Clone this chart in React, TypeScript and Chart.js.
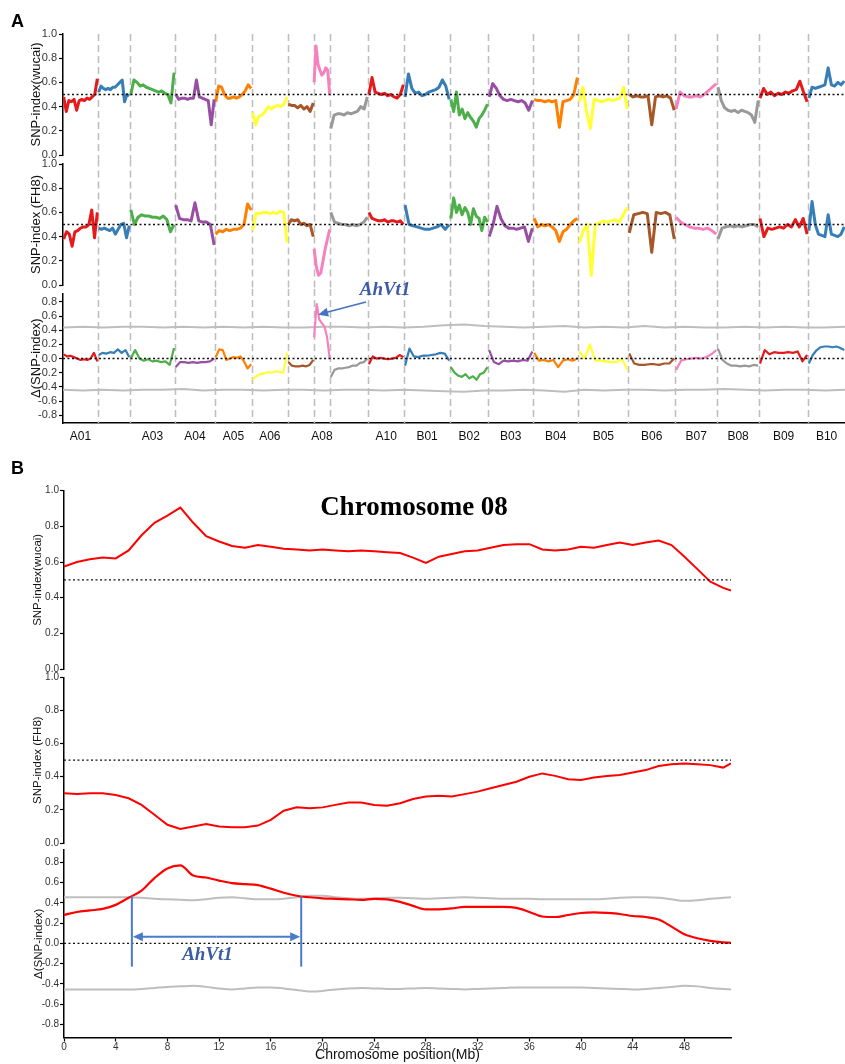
import React, { useEffect, useRef } from 'react';
import { Chart, registerables } from 'chart.js';

Chart.register(...registerables);

const SANS = "'Liberation Sans', Arial, Helvetica, sans-serif";
const SERIF = "'Liberation Serif', 'Times New Roman', serif";

// ---------------- Panel A data (genome-wide) ----------------
const chromNames = ['A01', 'A02', 'A03', 'A04', 'A05', 'A06', 'A07', 'A08', 'A09', 'A10',
  'B01', 'B02', 'B03', 'B04', 'B05', 'B06', 'B07', 'B08', 'B09', 'B10'];
const hiddenChromLabels = ['A02', 'A07', 'A09'];
const chromLengths = [112, 102, 144, 128, 118, 115, 83, 52, 122, 115,
  147, 122, 144, 144, 160, 150, 134, 134, 157, 118];
const chromColors = ['#E41A1C', '#377EB8', '#4DAF4A', '#984EA3', '#FF7F00', '#FFFF33', '#A65628', '#F781BF', '#999999',
  '#E41A1C', '#377EB8', '#4DAF4A', '#984EA3', '#FF7F00', '#FFFF33', '#A65628', '#F781BF', '#999999', '#E41A1C', '#377EB8'];

const wucaiA: number[][] = [
  [0.48, 0.36, 0.45, 0.44, 0.46, 0.37, 0.45, 0.46, 0.45, 0.47, 0.46, 0.48, 0.5, 0.63],
  [0.52, 0.57, 0.55, 0.54, 0.55, 0.54, 0.56, 0.56, 0.58, 0.6, 0.62, 0.44, 0.5, 0.49],
  [0.5, 0.62, 0.6, 0.57, 0.58, 0.56, 0.55, 0.54, 0.53, 0.52, 0.53, 0.51, 0.5, 0.43, 0.68],
  [0.5, 0.46, 0.47, 0.47, 0.46, 0.47, 0.47, 0.62, 0.48, 0.47, 0.46, 0.45, 0.25, 0.46],
  [0.44, 0.57, 0.56, 0.5, 0.47, 0.47, 0.48, 0.47, 0.48, 0.5, 0.53, 0.58, 0.55],
  [0.35, 0.25, 0.32, 0.33, 0.36, 0.40, 0.38, 0.40, 0.41, 0.40, 0.42, 0.48],
  [0.42, 0.41, 0.41, 0.39, 0.41, 0.38, 0.40, 0.36, 0.43],
  [0.6, 0.9, 0.75, 0.7, 0.66, 0.68, 0.72, 0.7, 0.5],
  [0.22, 0.33, 0.34, 0.34, 0.33, 0.35, 0.34, 0.35, 0.36, 0.40, 0.38, 0.48],
  [0.5, 0.64, 0.52, 0.51, 0.50, 0.51, 0.49, 0.50, 0.48, 0.47, 0.5, 0.58],
  [0.48, 0.67, 0.55, 0.51, 0.52, 0.49, 0.5, 0.52, 0.53, 0.54, 0.56, 0.62, 0.57, 0.46],
  [0.46, 0.36, 0.52, 0.33, 0.38, 0.30, 0.35, 0.31, 0.28, 0.23, 0.30, 0.33, 0.37, 0.42],
  [0.48, 0.59, 0.55, 0.49, 0.46, 0.45, 0.46, 0.45, 0.44, 0.45, 0.43, 0.37, 0.45],
  [0.46, 0.45, 0.45, 0.44, 0.45, 0.44, 0.45, 0.23, 0.44, 0.45, 0.46, 0.5, 0.64],
  [0.44, 0.56, 0.35, 0.22, 0.46, 0.45, 0.44, 0.45, 0.46, 0.45, 0.46, 0.47, 0.56, 0.38],
  [0.5, 0.48, 0.49, 0.48, 0.48, 0.49, 0.25, 0.48, 0.49, 0.48, 0.49, 0.47, 0.37],
  [0.38, 0.52, 0.49, 0.48, 0.48, 0.49, 0.48, 0.5, 0.53, 0.56, 0.59],
  [0.56, 0.45, 0.39, 0.37, 0.36, 0.37, 0.35, 0.37, 0.36, 0.35, 0.33, 0.27, 0.45],
  [0.47, 0.55, 0.5, 0.52, 0.49, 0.51, 0.5, 0.52, 0.51, 0.53, 0.54, 0.61, 0.52, 0.44],
  [0.47, 0.56, 0.55, 0.56, 0.57, 0.58, 0.72, 0.58, 0.57, 0.6, 0.58, 0.61],
];

const fh8A: number[][] = [
  [0.38, 0.44, 0.42, 0.32, 0.44, 0.45, 0.47, 0.48, 0.48, 0.5, 0.62, 0.39, 0.6],
  [0.47, 0.46, 0.47, 0.46, 0.45, 0.47, 0.42, 0.46, 0.5, 0.51, 0.39, 0.49],
  [0.62, 0.5, 0.56, 0.58, 0.57, 0.57, 0.56, 0.56, 0.55, 0.57, 0.54, 0.44, 0.5],
  [0.66, 0.55, 0.54, 0.54, 0.53, 0.68, 0.53, 0.52, 0.52, 0.5, 0.33],
  [0.42, 0.45, 0.44, 0.46, 0.45, 0.46, 0.46, 0.47, 0.5, 0.67, 0.62],
  [0.45, 0.59, 0.59, 0.6, 0.6, 0.59, 0.6, 0.59, 0.61, 0.6, 0.35],
  [0.5, 0.54, 0.53, 0.54, 0.5, 0.51, 0.49, 0.5, 0.4],
  [0.3, 0.15, 0.08, 0.1, 0.2, 0.3, 0.38, 0.46],
  [0.6, 0.52, 0.51, 0.5, 0.5, 0.49, 0.5, 0.49, 0.5, 0.52, 0.56],
  [0.6, 0.55, 0.54, 0.53, 0.53, 0.54, 0.52, 0.53, 0.53, 0.52, 0.53, 0.5],
  [0.66, 0.5, 0.49, 0.48, 0.47, 0.46, 0.46, 0.47, 0.48, 0.5, 0.46, 0.5],
  [0.55, 0.72, 0.6, 0.66, 0.58, 0.64, 0.6, 0.5, 0.63, 0.57, 0.55, 0.45, 0.56, 0.52],
  [0.4, 0.5, 0.65, 0.55, 0.49, 0.47, 0.47, 0.46, 0.47, 0.48, 0.36, 0.47],
  [0.55, 0.48, 0.5, 0.49, 0.5, 0.48, 0.45, 0.36, 0.44, 0.46, 0.5, 0.53, 0.55],
  [0.35, 0.45, 0.5, 0.08, 0.5, 0.51, 0.53, 0.52, 0.53, 0.54, 0.52, 0.58, 0.64],
  [0.43, 0.58, 0.59, 0.6, 0.59, 0.27, 0.6, 0.59, 0.6, 0.58, 0.38],
  [0.56, 0.52, 0.5, 0.48, 0.47, 0.47, 0.46, 0.47, 0.45, 0.42],
  [0.38, 0.47, 0.48, 0.49, 0.48, 0.49, 0.48, 0.49, 0.5, 0.5, 0.48],
  [0.55, 0.4, 0.47, 0.46, 0.47, 0.48, 0.47, 0.5, 0.48, 0.54, 0.48, 0.55, 0.42],
  [0.45, 0.69, 0.5, 0.42, 0.41, 0.4, 0.58, 0.42, 0.41, 0.4, 0.42, 0.48],
];

const deltaA: number[][] = [
  [0.06, 0.03, 0.04, 0.02, 0.0, -0.02, -0.01, -0.02, 0.0, 0.08, -0.04],
  [0.05, 0.08, 0.07, 0.09, 0.08, 0.13, 0.08, 0.12, 0.02],
  [0.0, 0.12, 0.0, -0.03, -0.01, -0.04, -0.03, -0.05, -0.04, -0.09, 0.15],
  [-0.12, -0.05, -0.05, -0.06, -0.05, -0.06, -0.05, -0.05, -0.04, 0.0],
  [0.02, 0.13, 0.12, -0.02, 0.0, 0.02, 0.01, 0.03, -0.04, -0.14, -0.08],
  [-0.3, -0.25, -0.22, -0.21, -0.19, -0.2, -0.18, -0.19, -0.2, 0.08],
  [-0.05, -0.1, -0.11, -0.11, -0.1, -0.11, -0.09, -0.02],
  [0.3, 0.77, 0.55, 0.5, 0.45, 0.3, 0.0],
  [-0.26, -0.16, -0.14, -0.14, -0.13, -0.12, -0.1, -0.1, -0.06, -0.05, 0.0],
  [-0.08, 0.03, 0.0, 0.01, 0.0, -0.01, 0.0, 0.01, 0.05, 0.02],
  [-0.1, 0.14, 0.03, 0.02, 0.04, 0.04, 0.05, 0.06, 0.08, 0.07, -0.03],
  [-0.12, -0.2, -0.24, -0.26, -0.22, -0.28, -0.25, -0.3, -0.22, -0.2, -0.12],
  [0.12, -0.05, -0.08, -0.03, -0.04, -0.03, -0.04, -0.02, -0.03, 0.1],
  [0.08, -0.03, -0.02, -0.04, -0.02, -0.12, -0.03, -0.01, -0.03, 0.0],
  [0.1, 0.0, 0.2, -0.03, -0.03, -0.04, -0.05, -0.05, 0.0, -0.16],
  [0.07, -0.07, -0.09, -0.09, -0.08, -0.08, -0.09, -0.07, -0.07, 0.0],
  [-0.16, -0.03, -0.01, 0.0, 0.01, 0.0, 0.02, 0.06, 0.12],
  [0.14, -0.02, -0.07, -0.1, -0.1, -0.11, -0.1, -0.11, -0.09, -0.1],
  [-0.07, 0.12, 0.06, 0.09, 0.08, 0.08, 0.09, 0.08, 0.1, -0.04, 0.05],
  [-0.07, 0.05, 0.12, 0.16, 0.17, 0.17, 0.16, 0.17, 0.15, 0.12],
];

const thrUpA = [0.44, 0.45, 0.44, 0.45, 0.45, 0.44, 0.45, 0.44, 0.45, 0.44, 0.45, 0.44, 0.44, 0.45, 0.45, 0.44, 0.45, 0.44, 0.45, 0.47,
  0.48, 0.46, 0.45, 0.44, 0.45, 0.46, 0.44, 0.45, 0.44, 0.46, 0.44, 0.45, 0.44, 0.44, 0.45, 0.44, 0.45, 0.44, 0.44, 0.45];
const thrLowA = [-0.44, -0.45, -0.44, -0.45, -0.44, -0.44, -0.43, -0.45, -0.44, -0.44, -0.45, -0.44, -0.44, -0.45, -0.44, -0.44, -0.45, -0.44, -0.45, -0.46,
  -0.47, -0.45, -0.45, -0.44, -0.45, -0.47, -0.44, -0.45, -0.44, -0.44, -0.45, -0.44, -0.44, -0.43, -0.44, -0.45, -0.44, -0.44, -0.45, -0.44];

// ---------------- Panel B data (chromosome 08) ----------------
const chr8Pos = [0, 1, 2, 3, 4, 5, 6, 7, 8, 9, 10, 11, 12, 13, 14, 15, 16, 17, 18, 19, 20, 21, 22, 23, 24, 25,
  26, 27, 28, 29, 30, 31, 32, 33, 34, 35, 36, 37, 38, 39, 40, 41, 42, 43, 44, 45, 46, 47, 48, 49, 50, 51, 51.6];
const chr8Wucai = [0.575, 0.60, 0.615, 0.625, 0.62, 0.665, 0.75, 0.82, 0.86, 0.905, 0.82, 0.745, 0.715, 0.69, 0.68, 0.695, 0.685, 0.675,
  0.67, 0.665, 0.67, 0.665, 0.66, 0.665, 0.66, 0.655, 0.65, 0.625, 0.595, 0.63, 0.645, 0.66, 0.665, 0.68, 0.695, 0.70, 0.70, 0.67,
  0.665, 0.67, 0.685, 0.68, 0.695, 0.71, 0.695, 0.71, 0.72, 0.695, 0.63, 0.56, 0.49, 0.455, 0.44];
const chr8FH8 = [0.30, 0.295, 0.30, 0.30, 0.29, 0.27, 0.23, 0.17, 0.11, 0.085, 0.10, 0.115, 0.10, 0.095, 0.095, 0.105, 0.14, 0.195,
  0.215, 0.21, 0.215, 0.23, 0.245, 0.245, 0.23, 0.225, 0.24, 0.265, 0.28, 0.285, 0.28, 0.295, 0.31, 0.33, 0.35, 0.37, 0.40, 0.42,
  0.405, 0.385, 0.38, 0.395, 0.405, 0.41, 0.425, 0.44, 0.465, 0.475, 0.48, 0.475, 0.47, 0.455, 0.48];
const chr8Delta = [0.28, 0.31, 0.325, 0.34, 0.38, 0.45, 0.52, 0.645, 0.74, 0.77, 0.67, 0.65, 0.62, 0.595, 0.585, 0.575, 0.54, 0.50,
  0.47, 0.455, 0.445, 0.44, 0.435, 0.43, 0.44, 0.435, 0.41, 0.37, 0.335, 0.335, 0.345, 0.36, 0.36, 0.36, 0.36, 0.35, 0.31, 0.265,
  0.26, 0.28, 0.30, 0.305, 0.30, 0.29, 0.27, 0.26, 0.235, 0.165, 0.09, 0.05, 0.025, 0.01, 0.005];
const chr8ThrUp = [0.455, 0.455, 0.455, 0.455, 0.455, 0.455, 0.45, 0.44, 0.435, 0.43, 0.425, 0.435, 0.45, 0.455, 0.445, 0.435, 0.435,
  0.44, 0.455, 0.47, 0.47, 0.455, 0.445, 0.44, 0.445, 0.45, 0.45, 0.445, 0.44, 0.445, 0.45, 0.455, 0.45, 0.445, 0.44, 0.44, 0.44,
  0.435, 0.435, 0.435, 0.435, 0.435, 0.44, 0.45, 0.455, 0.455, 0.45, 0.435, 0.42, 0.425, 0.44, 0.45, 0.455];
const chr8ThrLow = [-0.455, -0.455, -0.455, -0.455, -0.455, -0.455, -0.45, -0.44, -0.43, -0.425, -0.42, -0.43, -0.445, -0.455, -0.445,
  -0.435, -0.435, -0.445, -0.46, -0.475, -0.47, -0.455, -0.445, -0.44, -0.445, -0.45, -0.45, -0.445, -0.44, -0.445, -0.45, -0.455,
  -0.45, -0.445, -0.44, -0.435, -0.435, -0.435, -0.435, -0.435, -0.435, -0.44, -0.445, -0.45, -0.455, -0.45, -0.44, -0.43, -0.42,
  -0.425, -0.44, -0.45, -0.455];
const ahvt1Interval = [5.25, 18.35];

// annotation anchors (data coordinates)
const annoA = { text: 'AhVt1', textX: 1030, textY: 0.97, fromX: 969, fromY: 0.8, toX: 816, toY: 0.62 };
const annoB = { text: 'AhVt1', textX: 11.1, textY: -0.115, arrowY: 0.065, lineTop: 0.465, lineBottom: -0.23 };

// ---------------- derived ----------------
const chromStarts: number[] = [];
let accLen = 0;
chromLengths.forEach((l) => { chromStarts.push(accLen); accLen += l; });
const genomeLength = accLen;
const chromCenters = chromStarts.map((s, i) => s + chromLengths[i] / 2);
const chromBounds = chromStarts.slice(1);
const thrPosA = thrUpA.map((_, i) => (i * genomeLength) / (thrUpA.length - 1));

const fmt1 = (v: any) => (Math.abs(Number(v)) < 1e-9 ? 0 : Number(v)).toFixed(1);

function chromSeries(series: number[][], width: number) {
  return series.map((vals, i) => ({
    data: vals.map((v, j) => ({
      x: chromStarts[i] + chromLengths[i] * (0.02 + (0.96 * j) / (vals.length - 1)),
      y: v,
    })),
    borderColor: chromColors[i],
    borderWidth: width,
    borderJoinStyle: 'round',
    pointRadius: 0,
    tension: 0,
    order: 2,
  }));
}

function refLine(x0: number, x1: number, y: number) {
  return {
    data: [{ x: x0, y }, { x: x1, y }],
    borderColor: '#111',
    borderWidth: 1.4,
    borderDash: [2, 2.5],
    pointRadius: 0,
    order: 0,
  };
}

function lineSeries(xs: number[], ys: number[], color: string, width: number, tension: number, order = 1) {
  return {
    data: ys.map((y, i) => ({ x: xs[i], y })),
    borderColor: color,
    borderWidth: width,
    pointRadius: 0,
    tension,
    cubicInterpolationMode: tension > 0 ? 'monotone' : 'default',
    order,
  };
}

type AxisStyle = { tickSize: number; titleSize: number; titlePad: number; width: number; tickPad: number };
const AXIS_A: AxisStyle = { tickSize: 11, titleSize: 13, titlePad: 29, width: 63, tickPad: 2 };
const AXIS_B: AxisStyle = { tickSize: 10, titleSize: 11.5, titlePad: 30.6, width: 64, tickPad: 1 };

function yScale(min: number, max: number, title: string, s: AxisStyle) {
  return {
    type: 'linear',
    position: 'left',
    min,
    max,
    afterFit: (sc: any) => { sc.width = s.width; },
    border: { display: true, color: '#000', width: 1.5 },
    grid: { display: true, drawOnChartArea: false, drawTicks: true, tickLength: 4, tickWidth: 1.2, tickColor: '#000' },
    ticks: {
      stepSize: 0.2, includeBounds: false, padding: s.tickPad, color: '#333',
      font: { family: SANS, size: s.tickSize }, callback: fmt1,
    },
    title: {
      display: true, text: title, color: '#111',
      font: { family: SANS, size: s.titleSize }, padding: { top: s.titlePad, bottom: 0 },
    },
  };
}

function hiddenX(min: number, max: number) {
  return { type: 'linear', min, max, display: false };
}

const common = {
  animation: false,
  responsive: false,
  maintainAspectRatio: false,
  events: [],
  plugins: { legend: { display: false }, tooltip: { enabled: false } },
};

function chromLinesPlugin(extTop: number, extBottom: number) {
  return {
    id: 'chromLines',
    beforeDatasetsDraw(chart: any) {
      const { ctx, chartArea, scales } = chart;
      ctx.save();
      ctx.strokeStyle = '#BDBDBD';
      ctx.lineWidth = 1.5;
      ctx.setLineDash([7, 4]);
      chromBounds.forEach((b) => {
        const px = Math.round(scales.x.getPixelForValue(b)) + 0.5;
        ctx.beginPath();
        ctx.moveTo(px, chartArea.top - extTop);
        ctx.lineTo(px, chartArea.bottom + extBottom);
        ctx.stroke();
      });
      ctx.restore();
    },
  };
}

function drawArrow(ctx: any, x1: number, y1: number, x2: number, y2: number, head: number, halfW: number) {
  const a = Math.atan2(y2 - y1, x2 - x1);
  const c = Math.cos(a), s = Math.sin(a);
  ctx.beginPath();
  ctx.moveTo(x1, y1);
  ctx.lineTo(x2 - c * head * 0.7, y2 - s * head * 0.7);
  ctx.stroke();
  ctx.beginPath();
  ctx.moveTo(x2, y2);
  ctx.lineTo(x2 - head * c + halfW * s, y2 - head * s - halfW * c);
  ctx.lineTo(x2 - head * c - halfW * s, y2 - head * s + halfW * c);
  ctx.closePath();
  ctx.fill();
}

const annoAPlugin = {
  id: 'annoA',
  afterDraw(chart: any) {
    const { ctx, scales: { x, y } } = chart;
    ctx.save();
    ctx.strokeStyle = '#4472C4';
    ctx.fillStyle = '#4472C4';
    ctx.lineWidth = 1.6;
    drawArrow(ctx, x.getPixelForValue(annoA.fromX), y.getPixelForValue(annoA.fromY),
      x.getPixelForValue(annoA.toX), y.getPixelForValue(annoA.toY), 10, 4.5);
    ctx.fillStyle = '#3B5BA5';
    ctx.font = `italic bold 19px ${SERIF}`;
    ctx.textAlign = 'center';
    ctx.textBaseline = 'middle';
    ctx.fillText(annoA.text, x.getPixelForValue(annoA.textX), y.getPixelForValue(annoA.textY));
    ctx.restore();
  },
};

const annoBPlugin = {
  id: 'annoB',
  afterDatasetsDraw(chart: any) {
    const { ctx, scales: { x, y } } = chart;
    const xl = x.getPixelForValue(ahvt1Interval[0]);
    const xr = x.getPixelForValue(ahvt1Interval[1]);
    const yt = y.getPixelForValue(annoB.lineTop);
    const yb = y.getPixelForValue(annoB.lineBottom);
    const ya = y.getPixelForValue(annoB.arrowY);
    ctx.save();
    ctx.strokeStyle = '#4A7BCB';
    ctx.fillStyle = '#4A7BCB';
    ctx.lineWidth = 2;
    [xl, xr].forEach((px) => {
      ctx.beginPath();
      ctx.moveTo(px, yt);
      ctx.lineTo(px, yb);
      ctx.stroke();
    });
    const mid = (xl + xr) / 2;
    drawArrow(ctx, mid, ya, xl + 1, ya, 10, 4.5);
    drawArrow(ctx, mid, ya, xr - 1, ya, 10, 4.5);
    ctx.fillStyle = '#3B5BA5';
    ctx.font = `italic bold 19px ${SERIF}`;
    ctx.textAlign = 'center';
    ctx.textBaseline = 'middle';
    ctx.fillText(annoB.text, x.getPixelForValue(annoB.textX), y.getPixelForValue(annoB.textY));
    ctx.restore();
  },
};

// ---------------- chart configs ----------------
const cfgA1 = () => ({
  type: 'line',
  data: { datasets: [...chromSeries(wucaiA, 3), refLine(0, genomeLength, 0.5)] },
  options: {
    ...common,
    layout: { padding: { top: 34, bottom: 15, left: 0, right: 0 } },
    scales: { x: hiddenX(0, genomeLength), y: yScale(0, 1, 'SNP-index(wucai)', AXIS_A) },
  },
  plugins: [chromLinesPlugin(0, 4.5)],
});

const cfgA2 = () => ({
  type: 'line',
  data: { datasets: [...chromSeries(fh8A, 3), refLine(0, genomeLength, 0.5)] },
  options: {
    ...common,
    layout: { padding: { top: 14, bottom: 15, left: 0, right: 0 } },
    scales: { x: hiddenX(0, genomeLength), y: yScale(0, 1, 'SNP-index (FH8)', AXIS_A) },
  },
  plugins: [chromLinesPlugin(4.5, 4)],
});

const cfgA3 = () => ({
  type: 'line',
  data: {
    datasets: [
      lineSeries(thrPosA, thrUpA, '#BEBEBE', 2, 0, 3),
      lineSeries(thrPosA, thrLowA, '#BEBEBE', 2, 0, 3),
      ...chromSeries(deltaA, 2.2),
      refLine(0, genomeLength, 0),
    ],
  },
  options: {
    ...common,
    layout: { padding: { top: 23.4, bottom: 7, left: 0, right: 0 } },
    scales: {
      x: {
        type: 'linear', min: 0, max: genomeLength,
        afterBuildTicks: (axis: any) => { axis.ticks = chromCenters.map((v) => ({ value: v })); },
        afterFit: (sc: any) => { sc.height = 30; },
        grid: { display: false, drawTicks: false },
        border: { display: true, color: '#000', width: 1.5 },
        ticks: {
          autoSkip: false, maxRotation: 0, padding: 6, color: '#111',
          font: { family: SANS, size: 12 },
          callback: (_v: any, i: number) => (hiddenChromLabels.includes(chromNames[i]) ? '' : chromNames[i]),
        },
      },
      y: yScale(-0.91, 0.92, 'Δ(SNP-index)', AXIS_A),
    },
  },
  plugins: [chromLinesPlugin(4.4, 0), annoAPlugin],
});

const B_MAX = 51.6;

const cfgB1 = () => ({
  type: 'line',
  data: { datasets: [lineSeries(chr8Pos, chr8Wucai, '#FF0000', 2, 0), refLine(0, B_MAX, 0.5)] },
  options: {
    ...common,
    layout: { padding: { top: 30.7, bottom: 11, left: 0, right: 114 } },
    scales: { x: hiddenX(0, B_MAX), y: yScale(0, 1, 'SNP-index(wucai)', AXIS_B) },
  },
});

const cfgB2 = () => ({
  type: 'line',
  data: { datasets: [lineSeries(chr8Pos, chr8FH8, '#FF0000', 2, 0), refLine(0, B_MAX, 0.5)] },
  options: {
    ...common,
    layout: { padding: { top: 17.3, bottom: 17, left: 0, right: 114 } },
    scales: { x: hiddenX(0, B_MAX), y: yScale(0, 1, 'SNP-index (FH8)', AXIS_B) },
  },
});

const cfgB3 = () => ({
  type: 'line',
  data: {
    datasets: [
      lineSeries(chr8Pos, chr8ThrUp, '#BEBEBE', 2, 0.4, 3),
      lineSeries(chr8Pos, chr8ThrLow, '#BEBEBE', 2, 0.4, 3),
      lineSeries(chr8Pos, chr8Delta, '#FF0000', 2.2, 0.4, 1),
      refLine(0, B_MAX, 0),
    ],
  },
  options: {
    ...common,
    layout: { padding: { top: 15.2, bottom: 0, left: 0, right: 114 } },
    scales: {
      x: {
        type: 'linear', min: 0, max: B_MAX,
        afterFit: (sc: any) => { sc.height = 26.5; },
        grid: { display: true, drawOnChartArea: false, drawTicks: true, tickLength: 4, tickWidth: 1.2, tickColor: '#000' },
        border: { display: true, color: '#000', width: 1.5 },
        ticks: {
          stepSize: 4, includeBounds: false, autoSkip: false, maxRotation: 0, padding: 0, color: '#333',
          font: { family: SANS, size: 10 },
        },
        title: {
          display: true, text: 'Chromosome position(Mb)', color: '#111',
          font: { family: SANS, size: 14 }, padding: { top: 0, bottom: 0 },
        },
      },
      y: yScale(-0.93, 0.92, 'Δ(SNP-index)', { ...AXIS_B, titlePad: 32 }),
    },
  },
  plugins: [annoBPlugin],
});

// ---------------- components ----------------
function ChartBox({ top, height, make }: { top: number; height: number; make: () => any }) {
  const ref = useRef<HTMLCanvasElement | null>(null);
  useEffect(() => {
    if (!ref.current) return;
    const chart = new Chart(ref.current, make());
    return () => chart.destroy();
  }, []);
  return (
    <canvas
      ref={ref}
      width={845}
      height={height}
      style={{ position: 'absolute', left: 0, top, width: 845, height, display: 'block' }}
    />
  );
}

export default function App() {
  return (
    <div style={{ position: 'absolute', left: 0, top: 0, width: 845, height: 1064, overflow: 'hidden', background: '#fff' }}>
      <ChartBox top={0} height={170} make={cfgA1} />
      <ChartBox top={150} height={150} make={cfgA2} />
      <ChartBox top={270} height={190} make={cfgA3} />
      <ChartBox top={460} height={220} make={cfgB1} />
      <ChartBox top={660} height={200} make={cfgB2} />
      <ChartBox top={835} height={229} make={cfgB3} />
      <div style={{ position: 'absolute', left: 11, top: 12, font: `bold 18px ${SANS}`, lineHeight: '18px', color: '#000' }}>A</div>
      <div style={{ position: 'absolute', left: 11, top: 459, font: `bold 18px ${SANS}`, lineHeight: '18px', color: '#000' }}>B</div>
      <div style={{ position: 'absolute', left: 0, top: 493, width: 828, textAlign: 'center', font: `bold 27px ${SERIF}`, lineHeight: '27px', color: '#000' }}>
        Chromosome 08
      </div>
    </div>
  );
}
